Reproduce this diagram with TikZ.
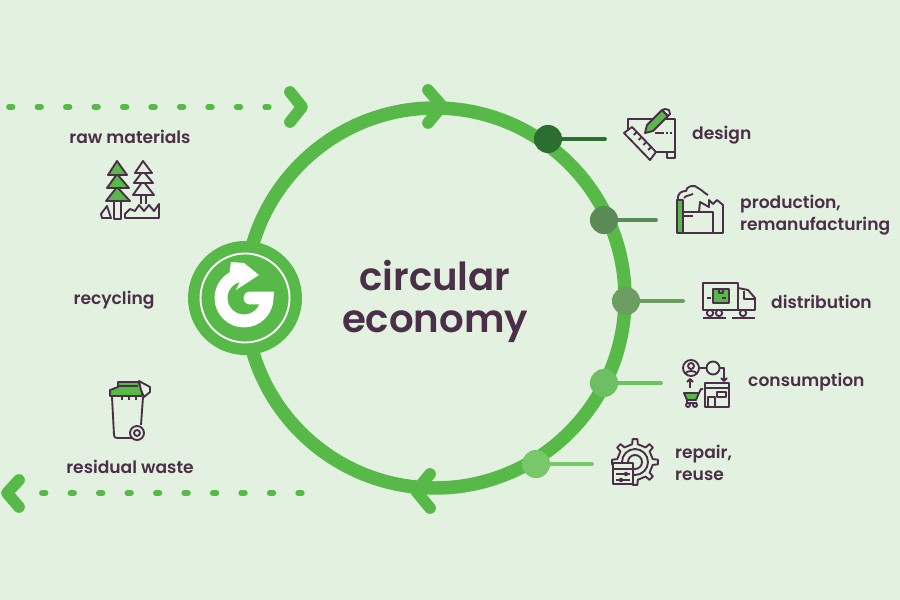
\documentclass[tikz,border=0pt]{standalone}
\usepackage{fontspec}
\usetikzlibrary{calc}
\setmainfont{Poppins Medium}[BoldFont={Poppins SemiBold}]
\definecolor{bgcol}{HTML}{E2F1E0}
\definecolor{ringcol}{HTML}{57B947}
\definecolor{inkcol}{HTML}{4B2E48}
\definecolor{designcol}{HTML}{2A6E30}
\definecolor{productioncol}{HTML}{5A8A55}
\definecolor{distributioncol}{HTML}{6E9D62}
\definecolor{consumptioncol}{HTML}{6CC061}
\definecolor{repaircol}{HTML}{78C768}
\tikzset{
  label text/.style={text=inkcol,font=\fontsize{14.6}{18.6}\selectfont\bfseries,align=left,inner sep=0pt},
  station/.style={circle,minimum size=24pt,inner sep=0pt,fill=#1},
  spoke/.style={line width=3.2pt,draw=#1,line cap=round},
  flow dots/.style={draw=ringcol,line width=5pt,line cap=round,dash pattern=on 3pt off 21.3pt},
  chevron/.style={draw=ringcol,line width=10pt,line cap=round,line join=round},
  icon/.style={draw=inkcol,line width=1.6pt,line join=round},
  icon green/.style={icon,fill=ringcol},
  icon blank/.style={icon,fill=bgcol},
}
\begin{document}
\begin{tikzpicture}[x=0.03cm,y=-0.03cm]
\fill[bgcol] (0,0) rectangle (900,600);
\coordinate (origin) at (435,298);
% Draw ring
\draw[ringcol,line width=11.5pt] (origin) circle [radius=190];
\draw[chevron] (428,90) -- (442,106) -- (428,123);
\draw[chevron] (430,474) -- (416,491) -- (430,508);
% Draw title
\node[text=inkcol,font=\fontsize{33}{36}\selectfont\bfseries,align=center,inner sep=0pt] (title) at (435,301) {circular\\economy};
% Draw stations
\node[station=designcol] (designdot) at (548,139) {};
\node[station=productioncol] (productiondot) at (604,220) {};
\node[station=distributioncol] (distributiondot) at (626,301) {};
\node[station=consumptioncol] (consumptiondot) at (604,383) {};
\node[station=repaircol] (repairdot) at (536,464) {};
\coordinate (designend) at (605,139);
\coordinate (productionend) at (656,220);
\coordinate (distributionend) at (683,301);
\coordinate (consumptionend) at (661,383);
\coordinate (repairend) at (592,464);
\draw[spoke=designcol] (designdot) -- (designend);
\draw[spoke=productioncol] (productiondot) -- (productionend);
\draw[spoke=distributioncol] (distributiondot) -- (distributionend);
\draw[spoke=consumptioncol] (consumptiondot) -- (consumptionend);
\draw[spoke=repaircol] (repairdot) -- (repairend);
% Draw labels
\node[label text,anchor=west] (designlabel) at (692,135.5) {design};
\node[label text,anchor=west] (productionlabel) at (740,215.5) {production,\\remanufacturing};
\node[label text,anchor=west] (distributionlabel) at (771,301.5) {distribution};
\node[label text,anchor=west] (consumptionlabel) at (748,382.5) {consumption};
\node[label text,anchor=west] (repairlabel) at (675,462.5) {repair,\\reuse};
\node[label text] (rawlabel) at (130,136.5) {raw materials};
\node[label text] (recyclinglabel) at (114,300.5) {recycling};
\node[label text] (wastelabel) at (130,466.5) {residual waste};
% Draw dotted flows
\coordinate (flowinstart) at (9,107);
\coordinate (flowinend) at (272,107);
\coordinate (flowoutstart) at (42,493);
\coordinate (flowoutend) at (302,493);
\draw[flow dots] (flowinstart) -- (flowinend);
\draw[flow dots] (flowoutstart) -- (flowoutend);
\draw[chevron] (290,92) -- (302,107) -- (290,122);
\draw[chevron] (19,480) -- (7,493) -- (19,507);
% Draw logo
\fill[ringcol] (245,298) circle [radius=57];
\draw[white,line width=1.6pt] (245,298) circle [radius=44.5];
\draw[white,line width=11pt,line cap=round] (250,298) -- (267,298) arc [start angle=0,end angle=255,radius=23];
\fill[white] (231,262) -- (244,263) -- (259,275) -- (236,290) -- (241,279) -- (229,276) -- cycle;
% Draw design icon
\draw[icon] (628,133) -- (628,119) -- (675,119) -- (675,158) -- (667,158) -- (667,152) -- (652,152);
\draw[icon] (667,152) -- (675,152);
\draw[icon] (655,133) -- (664,133);
\draw[icon,dotted] (666,133) -- (672,133);
\draw[icon blank] (624,133) -- (632,127) -- (656,152) -- (650,160) -- cycle;
\foreach \tickstep in {0.2,0.4,0.6,0.8} {
  \draw[icon] ($(632,127)!\tickstep!(656,152)$) -- +(-3,3);
}
\draw[icon green] (645,133) -- (647,125) -- (662,110) -- (668,116) -- (653,131) -- cycle;
\draw[icon blank] (662,110) -- (665,109) -- (669,110) -- (670,114) -- (668,116) -- cycle;
% Draw production icon
\draw[icon] (683,233) -- (723,233) -- (723,205) -- (717,200) -- (713,204) -- (709,200) -- (709,207) -- (700,202) -- (699,212);
\draw[icon] (683,212) -- (713,212) -- (713,233);
\draw[icon] (683,216) -- (693,216);
\draw[icon green] (677,200) rectangle (683,233);
\draw[icon] (678,200) .. controls (677,192) and (683,191) .. (686,191) .. controls (686,186) and (695,184) .. (698,188) .. controls (702,190) and (704,193) .. (708,195);
\draw[icon] (684,198) .. controls (686,195) and (690,196) .. (693,194);
% Draw distribution icon
\draw[icon] (703,283) rectangle (738,310);
\draw[icon green] (713,289) rectangle (729,303);
\draw[icon] (719,289) -- (719,293) -- (723,293) -- (723,289);
\draw[icon] (722,298) -- (726,298);
\draw[icon] (707,298) -- (711,298);
\draw[icon] (738,288) -- (748,290) -- (755,298) -- (755,310) -- (738,310);
\draw[icon] (744,291) -- (744,299) -- (755,299);
\draw[icon] (703,318) -- (726,318);
\draw[icon] (732,318) -- (755,318);
\foreach \wheelx in {710,719,743} {
  \draw[icon blank] (\wheelx,313) circle [radius=3.2];
}
% Draw consumption icon
\draw[icon] (691,368) circle [radius=8];
\draw[icon] (691,366) circle [radius=3];
\draw[icon] (685,374) .. controls (686,370) and (696,370) .. (697,374);
\draw[icon] (699,368) -- (706,368);
\draw[icon] (713,368) circle [radius=6.5];
\draw[icon] (720,368) -- (724,368) -- (724,380);
\draw[icon] (721,378) -- (724,381) -- (727,378);
\draw[icon] (690,388) -- (690,379);
\draw[icon] (687,382) -- (690,379) -- (693,382);
\draw[icon] (705,383) rectangle (729,407);
\draw[icon] (705,388) -- (729,388);
\draw[icon] (708,397) rectangle (715,407);
\draw[icon] (717,392) rectangle (726,397);
\draw[icon green] (684,393) -- (699,393) -- (696,400) -- (687,400) -- cycle;
\draw[icon] (699,393) -- (701,389) -- (703,389);
\draw[icon] (687,400) -- (687,403) -- (697,403);
\draw[icon] (688,405) circle [radius=2];
\draw[icon] (695,405) circle [radius=2];
% Draw repair icon
\begin{scope}[shift={(635,462)}]
\draw[icon] (-9:18) \foreach \toothangle in {0,45,...,315} { -- (\toothangle-9:18) -- (\toothangle-6:23) -- (\toothangle+6:23) -- (\toothangle+9:18)} -- cycle;
\draw[icon] (0,0) circle [radius=7];
\draw[icon] (0,0) circle [radius=13];
\end{scope}
\draw[icon blank] (613,463) rectangle (633,484);
\draw[icon] (613,469) -- (633,469);
\draw[icon] (616,474) -- (630,474);
\draw[icon] (616,480) -- (630,480);
\draw[icon blank] (626,474) circle [radius=1.5];
\draw[icon blank] (621,480) circle [radius=1.5];
% Draw trees
\draw[icon blank] (114,201) rectangle (121,219);
\draw[icon green] (117,187) -- (130,201) -- (106,201) -- cycle;
\draw[icon green] (117,174) -- (129,188) -- (107,188) -- cycle;
\draw[icon green] (117,161) -- (127,175) -- (108,175) -- cycle;
\draw[icon] (141,195) -- (141,204);
\draw[icon] (146,195) -- (146,204);
\draw[icon blank] (143,181) -- (154,195) -- (133,195) -- cycle;
\draw[icon blank] (143,171) -- (153,183) -- (134,183) -- cycle;
\draw[icon blank] (143,161) -- (152,173) -- (135,173) -- cycle;
\draw[icon] (125,218) -- (159,218) -- (159,204) -- (154,211) -- (149,205) -- (144,211) -- (139,205) -- (135,211) -- (130,209) -- (125,214) -- cycle;
\draw[icon] (102,218) -- (111,218) -- (107,206) -- (101,214) -- cycle;
% Draw bin
\draw[icon] (112,397) -- (114,435) .. controls (114,437) and (115,438) .. (117,438) -- (133,438);
\draw[icon] (143,397) -- (141,425);
\draw[icon] (122,396) -- (122,400);
\draw[icon] (129,396) -- (129,400);
\draw[icon] (136,396) -- (136,400);
\draw[icon green] (110,396) -- (110,390) -- (118,387) -- (118,382) -- (138,382) -- (142,388) -- (142,396) -- cycle;
\draw[icon] (119,386) -- (138,386);
\draw[icon blank] (139,381) -- (150,387) -- (150,392) -- (144,397) -- (141,390) -- cycle;
\draw[icon blank] (137,433) circle [radius=7];
\draw[icon] (137,433) circle [radius=3];
\end{tikzpicture}
\end{document}
